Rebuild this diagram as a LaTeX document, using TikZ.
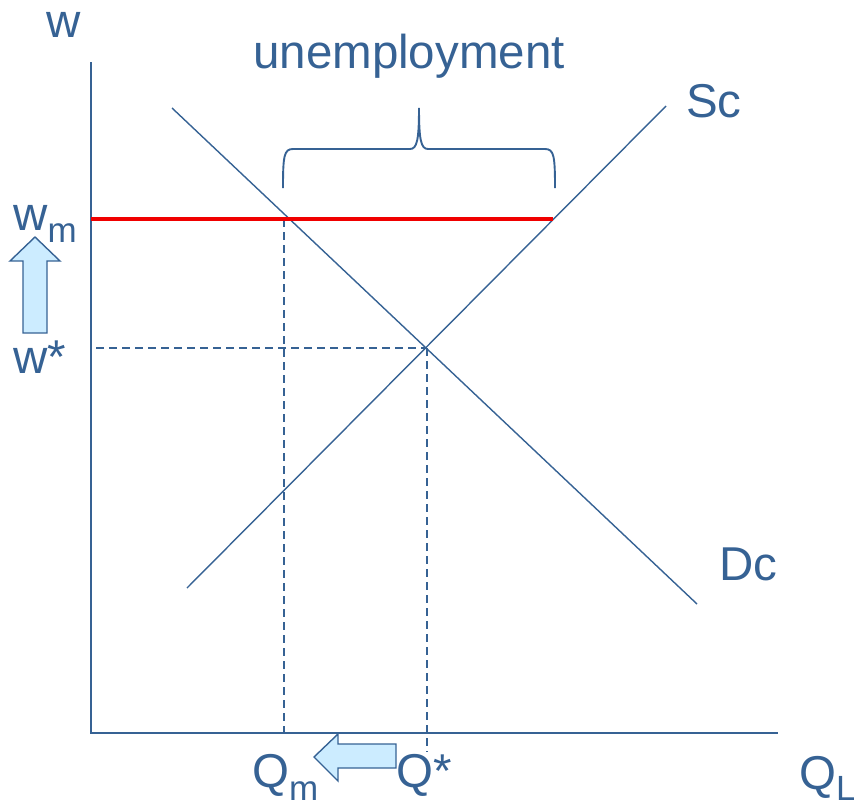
\documentclass[tikz,border=0pt]{standalone}
\usepackage{fontspec}
\setmainfont{Liberation Sans}
\definecolor{lblue}{RGB}{54,98,148}
\definecolor{afill}{RGB}{204,236,255}
\definecolor{mred}{RGB}{240,0,0}
\begin{document}
\begin{tikzpicture}[x=1pt,y=-1pt,
  curve/.style={draw=lblue,line width=1.4pt},
  axis/.style={draw=lblue,line width=1.8pt},
  guide/.style={draw=lblue,line width=1.1pt,dash pattern=on 8pt off 5pt},
  lbl/.style={text=lblue,inner sep=0pt,anchor=base west,font=\fontsize{47.5}{50}\selectfont},
  fat/.style={draw=lblue,fill=afill,line width=1.4pt,line join=miter}]
\useasboundingbox (0,0) rectangle (854,803);
% key points
\coordinate (O) at (91,733);
\coordinate (ytop) at (91,62);
\coordinate (xend) at (778,733);
\coordinate (S1) at (187,588);
\coordinate (S2) at (666,106);
\coordinate (D1) at (172,108);
\coordinate (D2) at (697,604);
\coordinate (E) at (427,348);
\coordinate (Eaxis) at (427,752);
\coordinate (Ew) at (96,348);
\coordinate (Wm) at (91,219);
\coordinate (Mq) at (284,219);
\coordinate (Ms) at (553,219);
\coordinate (Maxis) at (284,733);
% guides
\draw[guide] (Ew) -- (E);
\draw[guide] (E) -- (Eaxis);
\draw[guide] (Mq) -- (Maxis);
% axes
\draw[axis] (ytop) -- (O) -- (xend);
% curves
\draw[curve] (S1) -- (S2);
\draw[curve] (D1) -- (D2);
% minimum wage
\draw[draw=mred,line width=3.4pt] (Wm) -- (Ms);
% brace
\draw[curve,line width=1.9pt] (283,188) .. controls (283,156) and (284,149) .. (293,149) -- (410,149) .. controls (417,149) and (419,140) .. (419,108) .. controls (419,140) and (421,149) .. (428,149) -- (545,149) .. controls (554,149) and (555,156) .. (555,188);
% arrows
\draw[fat] (35,237) -- (60,261) -- (47,261) -- (47,333) -- (23,333) -- (23,261) -- (10,261) -- cycle;
\draw[fat] (314,757) -- (338,734) -- (338,744) -- (396,744) -- (396,768) -- (338,768) -- (338,781) -- cycle;
% labels
\node[lbl] (lw) at (46,37) {w};
\node[lbl] (lun) at (253,68) {unemployment};
\node[lbl] (lsc) at (686,117) {Sc};
\node[lbl] (ldc) at (719,580) {Dc};
\node[lbl] (lwm) at (13,230) {w\raisebox{-12pt}{\fontsize{35}{36}\selectfont m}};
\node[lbl] (lws) at (13,373) {w*};
\node[lbl] (lqm) at (252,787) {Q\raisebox{-13pt}{\fontsize{35}{36}\selectfont m}};
\node[lbl] (lqs) at (396,787) {Q*};
\node[lbl] (lql) at (799,789) {Q\raisebox{-11pt}{\fontsize{35}{36}\selectfont L}};
\end{tikzpicture}
\end{document}
